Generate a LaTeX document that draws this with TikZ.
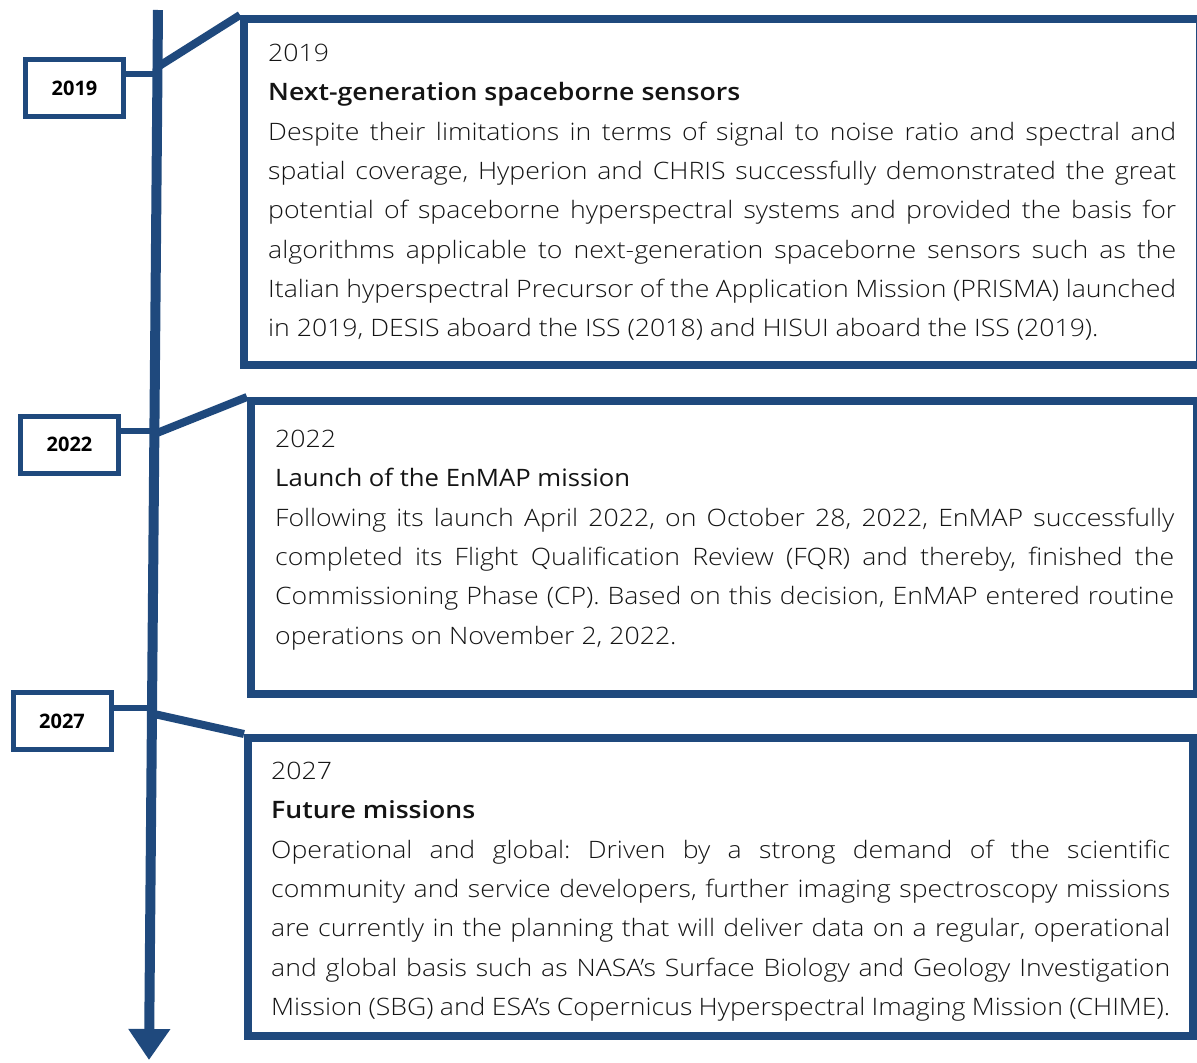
\documentclass[tikz,border=0pt]{standalone}
\usepackage{fontspec}
\usetikzlibrary{arrows.meta}
\setmainfont{Open Sans}
\IfFontExistsTF{Open Sans Light}{\newfontfamily\lightf{Open Sans Light}[FakeStretch=1.11]}{\newfontfamily\lightf{Open Sans}[FakeStretch=1.08]}
\IfFontExistsTF{Open Sans Semibold}{\newfontfamily\semif{Open Sans Semibold}[FakeStretch=1.11]}{\newfontfamily\semif{Open Sans}[UprightFont=*-Bold,FakeStretch=1.08]}
\newfontfamily\regf{Open Sans}[FakeStretch=1.07]
\definecolor{tlblue}{HTML}{1F497D}
\definecolor{txt}{HTML}{141414}
\tikzset{
  yearbox/.style={draw=tlblue, line width=5pt, fill=white, minimum width=98pt, minimum height=57pt, inner sep=0pt, font=\fontsize{20}{24}\selectfont\bfseries, text=black},
  bigbox/.style={draw=tlblue, line width=8pt, inner sep=0pt},
  conn/.style={draw=tlblue, line width=6pt},
  diag/.style={draw=tlblue, line width=8pt},
  spine/.style={draw=tlblue, line width=10pt, -{Triangle[width=40pt,length=31pt]}},
  para/.style={anchor=base west, inner sep=0pt, align=justify, text=txt,
    font=\lightf\fontsize{24}{39.3}\selectfont}
}
\begin{document}
\begin{tikzpicture}[x=1pt,y=-1pt]
\useasboundingbox (0,0) rectangle (1197,1063);
% big boxes
\node[bigbox, minimum width=956pt, minimum height=346pt] (b1) at (722,192) {};
\node[bigbox, minimum width=946pt, minimum height=293pt] (b2) at (724,547.5) {};
\node[bigbox, minimum width=945pt, minimum height=298pt] (b3) at (720.5,887) {};
% year boxes
\node[yearbox] (y1) at (74.5,88) {2019};
\node[yearbox] (y2) at (69.5,444.5) {2022};
\node[yearbox] (y3) at (62,721) {2027};
% spine
\coordinate (top) at (158,10);
\coordinate (tip) at (149,1060);
\coordinate (h1) at (157.5,74);
\coordinate (h2) at (154.4,431);
\coordinate (h3) at (152,707.5);
\coordinate (d1) at (157.6,67);
\coordinate (d2) at (154.4,434);
\coordinate (d3) at (152,713.5);
\draw[conn] (y1.east |- h1) -- (h1);
\draw[conn] (y2.east |- h2) -- (h2);
\draw[conn] (y3.east |- h3) -- (h3);
\draw[diag] (d1) -- (b1.north west);
\draw[diag] (d2) -- (b2.north west);
\draw[diag] (d3) -- (b3.north west);
\draw[spine] (top) -- (tip);
% texts
\node[para, text width=908pt] (t1) at (268,61.5) {\tolerance=9999\hyphenpenalty=10000\frenchspacing
2019\\
{\semif Next-generation spaceborne sensors}\\
Despite their limitations in terms of signal to noise ratio and spectral and\linebreak
spatial coverage, Hyperion and CHRIS successfully demonstrated the great\linebreak
potential of spaceborne hyperspectral systems and provided the basis for\linebreak
algorithms applicable to next-generation spaceborne sensors such as the\linebreak
Italian hyperspectral Precursor of the Application Mission (PRISMA) launched\linebreak
in 2019, DESIS aboard the ISS (2018) and HISUI aboard the ISS (2019).};
\node[para, text width=899pt] (t2) at (275,447.5) {\tolerance=9999\hyphenpenalty=10000\frenchspacing
2022\\
{\regf Launch of the EnMAP mission}\\
Following its launch April 2022, on October 28, 2022, EnMAP successfully\linebreak
completed its Flight Qualification Review (FQR) and thereby, finished the\linebreak
Commissioning Phase (CP). Based on this decision, EnMAP entered routine\linebreak
operations on November 2, 2022.};
\node[para, text width=899pt] (t3) at (271,779.5) {\tolerance=9999\hyphenpenalty=10000\frenchspacing
2027\\
{\semif Future missions}\\
Operational and global: Driven by a strong demand of the scientific\linebreak
community and service developers, further imaging spectroscopy missions\linebreak
are currently in the planning that will deliver data on a regular, operational\linebreak
and global basis such as NASA’s Surface Biology and Geology Investigation\linebreak
Mission (SBG) and ESA’s Copernicus Hyperspectral Imaging Mission (CHIME).};
\end{tikzpicture}
\end{document}
